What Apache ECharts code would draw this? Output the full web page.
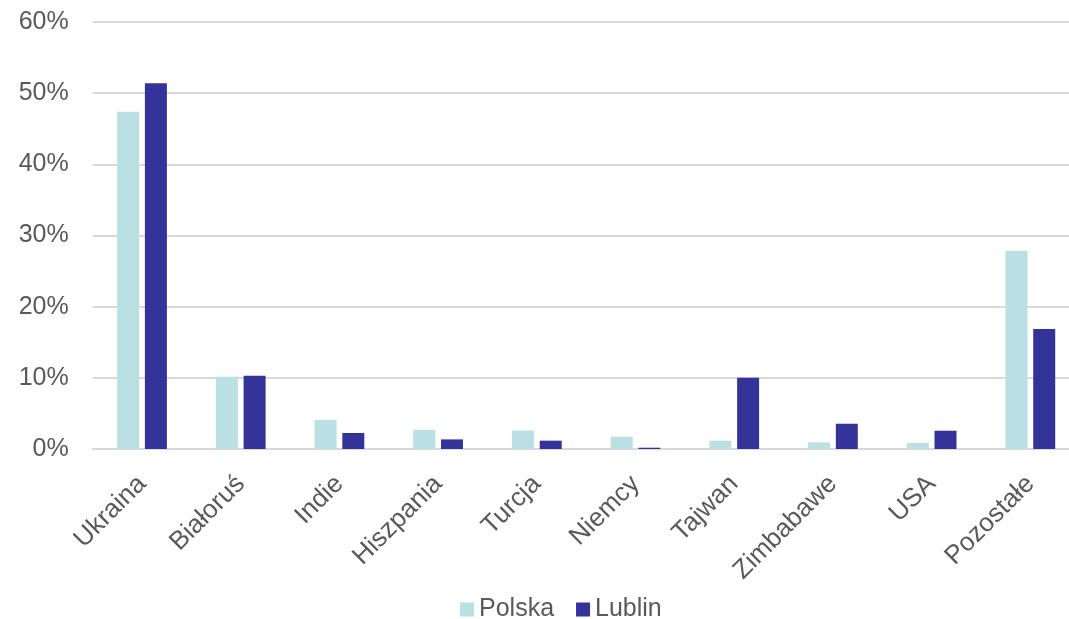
<!DOCTYPE html>
<html><head><meta charset="utf-8">
<script src="https://cdn.jsdelivr.net/npm/echarts@6/dist/echarts.min.js"></script>
<style>html,body{margin:0;padding:0;background:#fff}#c{width:1069px;height:619px}</style>
</head><body><div id="c"></div>
<script>
const categories = ['Ukraina','Białoruś','Indie','Hiszpania','Turcja','Niemcy','Tajwan','Zimbabawe','USA','Pozostałe'];
const polska = [47.4, 10.15, 4.07, 2.7, 2.6, 1.73, 1.17, 0.93, 0.84, 27.85];
const lublin = [51.4, 10.3, 2.25, 1.35, 1.17, 0.18, 10.0, 3.55, 2.57, 16.85];
const seriesNames = ['Polska','Lublin'];
const colors = ['#BAE0E3','#343399'];
const font = 'Liberation Sans, Arial, sans-serif';
const chart = echarts.init(document.getElementById('c'), null, {renderer:'canvas'});
chart.setOption({
  animation:false,
  grid:{left:92.7,right:-10.7,top:22,bottom:170,containLabel:false,outerBoundsMode:'none'},
  legend:{top:592,left:455,itemWidth:14,itemHeight:14,itemGap:22,
    textStyle:{fontFamily:font,fontSize:25,color:'#595959'},
    data:seriesNames.map(n=>({name:n,icon:'rect'}))},
  xAxis:{type:'category',data:categories,
    axisLine:{lineStyle:{color:'#d9d9d9',width:2}},axisTick:{show:false},
    axisLabel:{rotate:45,interval:0,fontFamily:font,fontSize:26,color:'#595959',margin:31}},
  yAxis:{type:'value',min:0,max:60,interval:10,
    axisLabel:{formatter:'{value}%',fontFamily:font,fontSize:25,color:'#595959',margin:24},
    splitLine:{lineStyle:{color:'#d9d9d9',width:2}},axisLine:{show:false},axisTick:{show:false}},
  series:[
    {name:seriesNames[0],type:'bar',data:polska,barWidth:22,barGap:'26%',itemStyle:{color:colors[0]}},
    {name:seriesNames[1],type:'bar',data:lublin,barWidth:22,barGap:'26%',itemStyle:{color:colors[1]}}
  ]
});
</script></body></html>
